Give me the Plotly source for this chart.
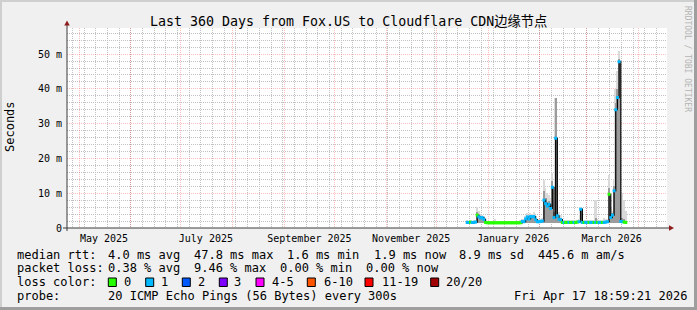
import plotly.graph_objects as go
import pandas as pd

# ---------------- data ----------------
title = "Last 360 Days from Fox.US to Cloudflare CDN边缘节点"
x_start = "2025-04-23 19:26"
x_end = "2026-04-18 04:34"
y_max = 57.5

data_start = "2025-12-19 12:00"
# daily median RTT (ms)
median_ms = [1.6, 1.6, 1.7, 1.6, 1.6, 1.7, 3.7, 3.2, 2.9, 3.0, 2.5, 1.6,
             1.5, 1.5, 1.5, 1.5, 1.5, 1.5, 1.5, 1.5, 1.5, 1.5, 1.5, 1.5,
             1.5, 1.5, 1.5, 1.5, 1.5, 1.5, 1.5, 1.5, 1.5, 1.9, 1.8, 2.6,
             3.2, 2.6, 3.3, 3.2, 3.3, 2.4, 1.8, 1.8, 1.9, 2.0, 8.0, 7.0,
             6.3, 6.8, 5.6, 11.7, 3.0, 25.8, 3.5, 2.5, 2.4, 1.6, 1.6, 1.6,
             1.6, 1.6, 1.6, 1.6, 1.6, 1.6, 1.7, 1.8, 5.4, 1.6, 1.6, 1.6,
             1.6, 1.6, 1.6, 1.6, 1.6, 1.6, 1.6, 1.6, 1.6, 1.6, 1.6, 1.7,
             1.8, 9.7, 3.0, 3.7, 10.7, 34.0, 37.5, 47.8, 1.9, 1.8, 1.7, 1.6]
# upper edge of light smoke (ms)
smoke_hi = [2.2, 2.0, 2.2, 2.0, 2.3, 2.4, 6.0, 5.0, 4.0, 3.8, 3.4, 2.4,
            2.0, 2.0, 2.0, 2.0, 2.0, 2.6, 2.0, 2.0, 2.0, 2.0, 2.0, 2.0,
            2.0, 2.0, 2.0, 2.0, 2.0, 2.0, 2.0, 2.0, 2.2, 2.6, 2.5, 3.5,
            4.2, 3.8, 4.3, 4.0, 4.5, 3.3, 2.6, 2.5, 2.6, 3.0, 13.8, 11.5,
            10.0, 9.5, 8.5, 15.8, 8.0, 37.5, 9.0, 4.5, 3.8, 2.3, 2.3, 2.3,
            2.3, 2.3, 2.3, 2.3, 2.3, 2.3, 2.4, 2.6, 6.0, 2.3, 2.3, 2.3,
            2.3, 2.3, 2.3, 2.3, 2.3, 8.0, 2.6, 2.3, 2.3, 2.3, 3.0, 2.5,
            2.6, 15.2, 6.0, 5.0, 14.0, 40.0, 45.0, 51.0, 10.0, 10.0, 8.0, 5.0]
# upper edge of dense smoke (ms)
smoke_dark = [1.8, 1.8, 1.9, 1.8, 1.8, 1.9, 4.5, 3.8, 3.2, 3.3, 2.8, 1.8,
              1.7, 1.7, 1.7, 1.7, 1.7, 1.8, 1.7, 1.7, 1.7, 1.7, 1.7, 1.7,
              1.7, 1.7, 1.7, 1.7, 1.7, 1.7, 1.7, 1.7, 1.7, 2.1, 2.0, 2.9,
              3.5, 2.9, 3.6, 3.5, 3.6, 2.7, 2.0, 2.0, 2.1, 2.3, 10.5, 8.5,
              7.5, 7.8, 6.5, 13.5, 4.5, 37.5, 4.5, 2.9, 2.7, 1.8, 1.8, 1.8,
              1.8, 1.8, 1.8, 1.8, 1.8, 1.8, 1.9, 2.0, 5.6, 1.8, 1.8, 1.8,
              1.8, 1.8, 1.8, 1.8, 1.8, 3.0, 1.9, 1.8, 1.8, 1.8, 2.0, 1.9,
              2.0, 11.5, 4.0, 4.2, 12.0, 36.0, 40.0, 48.5, 3.0, 3.0, 2.5, 2.0]
# lost pings (of 20) per day
loss = [1, 1, 0, 1, 1, 1, 0, 1, 1, 1, 1, 0,
        0, 0, 0, 0, 0, 0, 0, 0, 0, 0, 0, 0,
        0, 0, 0, 0, 0, 0, 0, 0, 0, 1, 1, 1,
        1, 1, 1, 1, 1, 1, 1, 1, 1, 1, 1, 1,
        1, 1, 1, 1, 1, 1, 1, 1, 1, 0, 1, 0,
        0, 1, 0, 0, 1, 0, 0, 1, 1, 1, 0, 1,
        1, 0, 1, 1, 0, 1, 0, 1, 1, 0, 1, 1,
        1, 0, 1, 1, 1, 1, 1, 1, 1, 1, 0, 0]

loss_labels = ["0", "1", "2", "3", "4-5", "6-10", "11-19", "20/20"]
loss_colors = ["#26ff00", "#00b8ff", "#0059ff", "#7e00ff", "#ff00ff",
               "#ff5500", "#ff0000", "#a10000"]

y_tickvals = [0, 10, 20, 30, 40, 50]
y_ticktext = ["0", "10 m", "20 m", "30 m", "40 m", "50 m"]
x_label_dates = ["2025-05-16", "2025-07-16", "2025-09-16", "2025-11-16",
                 "2026-01-16", "2026-03-16"]
x_label_text = ["May 2025", "July 2025", "September 2025", "November 2025",
                "January 2026", "March 2026"]

rtt_stats = ["4.0 ms avg", "47.8 ms max", "1.6 ms min", "1.9 ms now",
             "8.9 ms sd", "445.6 m am/s"]
loss_stats = ["0.38 % avg", "9.46 % max", "0.00 % min", "0.00 % now"]
probe_text = "20 ICMP Echo Pings (56 Bytes) every 300s"
stamp_text = "Fri Apr 17 18:59:21 2026"

# ---------------- layout helpers ----------------
W, H = 697, 310
L, R, T, B = 67, 667, 28, 228


def px(xp):
    return (xp - L) / (R - L)


def py(yp):
    return (B - yp) / (B - T)


MONO = "DejaVu Sans Mono, Noto Sans CJK SC, monospace"
MAJOR = "rgba(255,60,60,0.32)"
MINOR = "#c2c2c2"

dates = pd.date_range(data_start, periods=len(median_ms), freq="D")
month_starts = pd.date_range("2025-05-01", "2026-04-01", freq="MS")
day_ms = 86400000

fig = go.Figure()

# invisible trace to activate the month-grid overlay axis
fig.add_trace(go.Scatter(x=[x_start], y=[None], xaxis="x2", mode="markers",
                         hoverinfo="skip", showlegend=False))
# smoke (light)
fig.add_trace(go.Bar(
    x=dates, y=[h - 1.3 for h in smoke_hi], base=1.3, width=day_ms,
    marker=dict(color="#dadada", line=dict(width=0)), hoverinfo="skip"))
# smoke (dense)
fig.add_trace(go.Bar(
    x=dates, y=[d - 1.3 for d in smoke_dark], base=1.3, width=day_ms * 0.6,
    marker=dict(color="#9c9c9c", line=dict(width=0)), hoverinfo="skip"))
# median line
fig.add_trace(go.Scatter(
    x=dates, y=median_ms, mode="lines", line=dict(color="#000000", width=1.2, shape="hv"),
    hoverinfo="skip"))
# loss colored median
fig.add_trace(go.Scatter(
    x=dates, y=median_ms, mode="markers",
    marker=dict(symbol="square", size=3, color=[loss_colors[l] for l in loss],
                line=dict(width=0)),
    hoverinfo="skip"))

shapes = []
# outer frame (3D border)
shapes.append(dict(type="rect", xref="paper", yref="paper", x0=px(0), x1=px(W), y0=py(2), y1=py(0),
                   fillcolor="#cfcfcf", line=dict(width=0)))
shapes.append(dict(type="rect", xref="paper", yref="paper", x0=px(0), x1=px(2), y0=py(H), y1=py(0),
                   fillcolor="#cfcfcf", line=dict(width=0)))
shapes.append(dict(type="rect", xref="paper", yref="paper", x0=px(0), x1=px(W), y0=py(H), y1=py(H - 3),
                   fillcolor="#9e9e9e", line=dict(width=0)))
shapes.append(dict(type="rect", xref="paper", yref="paper", x0=px(W - 3), x1=px(W), y0=py(H), y1=py(0),
                   fillcolor="#9e9e9e", line=dict(width=0)))
# axes lines + arrows
axis_col = "#3a3a3a"
shapes.append(dict(type="line", xref="paper", yref="paper", x0=px(63), x1=px(671), y0=0, y1=0,
                   line=dict(color=axis_col, width=1)))
shapes.append(dict(type="line", xref="paper", yref="paper", x0=0, x1=0, y0=py(231), y1=py(24),
                   line=dict(color=axis_col, width=1)))
arrow_col = "#8e1c1c"
shapes.append(dict(type="path", xref="paper", yref="paper",
                   path=f"M {px(64.2)} {py(25.5)} L {px(69.8)} {py(25.5)} L {px(67)} {py(20.5)} Z",
                   fillcolor=arrow_col, line=dict(width=0)))
shapes.append(dict(type="path", xref="paper", yref="paper",
                   path=f"M {px(669)} {py(225.2)} L {px(669)} {py(230.8)} L {px(674)} {py(228)} Z",
                   fillcolor=arrow_col, line=dict(width=0)))

annotations = []


def text(xp, yp, s, size=12, anchor="left", color="#000000", angle=0):
    annotations.append(dict(xref="paper", yref="paper", x=px(xp), y=py(yp), text=s,
                            showarrow=False, xanchor=anchor, yanchor="middle",
                            textangle=angle, borderpad=0,
                            font=dict(family=MONO, size=size, color=color)))


text(348, 22, title, size=13.3, anchor="center")
text(10, 127, "Seconds", size=12, anchor="center", angle=-90)
text(688, 59, "RRDTOOL / TOBI OETIKER", size=8, anchor="center", color="#b4b4b4", angle=90)

rows = [254.5, 268.3, 282.3, 295.8]
text(16, rows[0], "median rtt:")
for xp, s in zip([107.3, 192.7, 286, 372.7, 458.3, 537.3], rtt_stats):
    text(xp, rows[0], s)
text(16, rows[1], "packet loss:")
for xp, s in zip([107.3, 192.7, 279.3, 365], loss_stats):
    text(xp, rows[1], s)
text(16, rows[2], "loss color:")
box_x = [108.3, 145.7, 182.3, 219.3, 256, 307.3, 365, 430.7]
lab_x = [123.3, 160, 196.7, 233.3, 270.7, 322.7, 380.7, 445]
for bx, lx, c, s in zip(box_x, lab_x, loss_colors, loss_labels):
    shapes.append(dict(type="rect", xref="paper", yref="paper", x0=px(bx), x1=px(bx + 8),
                       y0=py(286.5), y1=py(278), fillcolor=c, line=dict(color="#000000", width=1)))
    text(lx, rows[2], s)
text(16, rows[3], "probe:")
text(107.3, rows[3], probe_text)
text(513.3, rows[3], stamp_text)

minor_y = [v for v in range(2, 58, 2) if v % 10 != 0]

fig.update_layout(
    width=W, height=H,
    margin=dict(l=L, r=W - R, t=T, b=H - B, pad=0),
    paper_bgcolor="#f0f0f0", plot_bgcolor="#ffffff",
    showlegend=False, barmode="overlay", bargap=0,
    shapes=shapes, annotations=annotations,
    xaxis=dict(range=[x_start, x_end], type="date", tickmode="array",
               tickvals=x_label_dates, ticktext=x_label_text,
               showgrid=False, zeroline=False, showline=False, ticks="",
               ticklabelstandoff=3,
               tickfont=dict(family=MONO, size=10, color="#000000"),
               minor=dict(tick0="2025-04-20", dtick=7 * day_ms, showgrid=True,
                          gridcolor=MINOR, griddash="1px,1px", gridwidth=1)),
    xaxis2=dict(range=[x_start, x_end], type="date", overlaying="x", side="bottom",
                tickmode="array", tickvals=list(month_starts), showticklabels=False,
                showgrid=True, gridcolor=MAJOR, griddash="1px,1px", gridwidth=1,
                zeroline=False, showline=False, ticks=""),
    yaxis=dict(range=[0, y_max], tickmode="array", tickvals=y_tickvals, ticktext=y_ticktext,
               showgrid=True, gridcolor=MAJOR, griddash="1px,1px",
               zeroline=False, showline=False, ticks="", ticklabelstandoff=4,
               tickfont=dict(family=MONO, size=10, color="#000000"),
               minor=dict(tickmode="array", tickvals=minor_y, showgrid=True,
                          gridcolor=MINOR, griddash="1px,1px", gridwidth=1)),
)

fig.write_html("out.html")
